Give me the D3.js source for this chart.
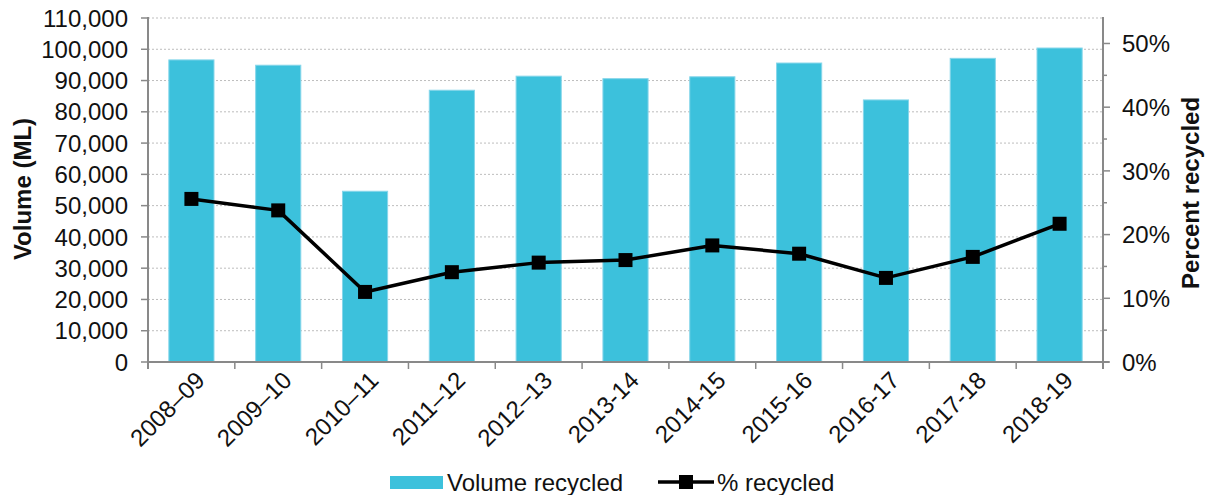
<!DOCTYPE html>
<html>
<head>
<meta charset="utf-8">
<script src="https://cdn.jsdelivr.net/npm/d3@7"></script>
<style>
  html, body { margin: 0; padding: 0; background: #fff; }
  svg { display: block; font-family: "Liberation Sans", Arial, sans-serif; }
</style>
</head>
<body>
<svg id="chart" width="1207" height="495"></svg>
<script>
// Financial years
const years = ["2008\u201309", "2009\u201310", "2010\u201311", "2011\u201312", "2012\u201313",
               "2013-14", "2014-15", "2015-16", "2016-17", "2017-18", "2018-19"];
// Volume of water recycled (ML)
const volumeRecycled = [96600, 94900, 54600, 86900, 91400, 90600, 91200, 95600, 83800, 97100, 100400];
// Share of effluent recycled (%)
const percentRecycled = [25.6, 23.8, 11.0, 14.1, 15.6, 16.0, 18.3, 17.0, 13.2, 16.5, 21.7];
// Axis ticks
const volumeTicks = d3.range(0, 110001, 10000);
const percentTicks = [0, 10, 20, 30, 40, 50];
const percentMinorTicks = [5, 15, 25, 35, 45];

const svg = d3.select("#chart");
const fs = 24;
const axisColor = "#898989";

const plotLeft = 148, plotRight = 1103, plotTop = 18, plotBottom = 362;

const x = d3.scaleBand().domain(years).range([plotLeft, plotRight])
  .paddingInner(0.48).paddingOuter(0.24);
const y = d3.scaleLinear().domain([0, 110000]).range([plotBottom, plotTop]);
const y2 = d3.scaleLinear().domain([0, 54]).range([plotBottom, plotTop]);

// Dotted gridlines
svg.append("g").selectAll("line").data(volumeTicks.filter(d => d > 0)).join("line")
  .attr("x1", plotLeft).attr("x2", plotRight)
  .attr("y1", d => y(d)).attr("y2", d => y(d))
  .attr("stroke", "#bdbdbd").attr("stroke-width", 1)
  .attr("stroke-dasharray", "2,2");

// Bars
svg.append("g").selectAll("rect").data(years).join("rect")
  .attr("x", d => x(d))
  .attr("width", x.bandwidth())
  .attr("y", (d, i) => y(volumeRecycled[i]))
  .attr("height", (d, i) => plotBottom - y(volumeRecycled[i]))
  .attr("fill", "#3cc1dc")
  .attr("stroke", "#86d6ea").attr("stroke-width", 1);

// Left axis
const gL = svg.append("g");
gL.append("line").attr("x1", plotLeft).attr("x2", plotLeft).attr("y1", plotTop - 1).attr("y2", plotBottom + 7)
  .attr("stroke", axisColor).attr("stroke-width", 2);
gL.selectAll("line.t").data(volumeTicks).join("line").attr("class", "t")
  .attr("x1", plotLeft - 7).attr("x2", plotLeft)
  .attr("y1", d => y(d)).attr("y2", d => y(d))
  .attr("stroke", axisColor).attr("stroke-width", 1.5);
gL.selectAll("text").data(volumeTicks).join("text")
  .attr("x", 128).attr("y", d => y(d)).attr("dy", "0.36em")
  .attr("text-anchor", "end").attr("font-size", fs).attr("fill", "#111")
  .text(d => d3.format(",")(d));

// Right axis
const gR = svg.append("g");
gR.append("line").attr("x1", plotRight).attr("x2", plotRight).attr("y1", plotTop - 1).attr("y2", plotBottom + 7)
  .attr("stroke", axisColor).attr("stroke-width", 2);
gR.selectAll("line.maj").data(percentTicks).join("line").attr("class", "maj")
  .attr("x1", plotRight).attr("x2", plotRight + 7)
  .attr("y1", d => y2(d)).attr("y2", d => y2(d))
  .attr("stroke", axisColor).attr("stroke-width", 1.5);
gR.selectAll("line.min").data(percentMinorTicks).join("line").attr("class", "min")
  .attr("x1", plotRight).attr("x2", plotRight + 4)
  .attr("y1", d => y2(d)).attr("y2", d => y2(d))
  .attr("stroke", axisColor).attr("stroke-width", 1.5);
gR.selectAll("text").data(percentTicks).join("text")
  .attr("x", 1122).attr("y", d => y2(d)).attr("dy", "0.36em")
  .attr("text-anchor", "start").attr("font-size", fs).attr("fill", "#111")
  .text(d => d + "%");

// X axis
const step = x.step();
const gap = (step - x.bandwidth()) / 2;
const boundaries = years.map(d => x(d) - gap).concat([plotRight]);
const gX = svg.append("g");
gX.append("line").attr("x1", plotLeft).attr("x2", plotRight + 6).attr("y1", plotBottom).attr("y2", plotBottom)
  .attr("stroke", axisColor).attr("stroke-width", 2);
gX.selectAll("line.t").data(boundaries).join("line").attr("class", "t")
  .attr("x1", d => d).attr("x2", d => d).attr("y1", plotBottom).attr("y2", plotBottom + 7)
  .attr("stroke", axisColor).attr("stroke-width", 1.5);
gX.selectAll("text").data(years).join("text")
  .attr("transform", d => `translate(${x(d) + x.bandwidth() / 2 + 3},${plotBottom + 8}) rotate(-45)`)
  .attr("text-anchor", "end").attr("dy", "0.7em")
  .attr("font-size", fs).attr("fill", "#111")
  .text(d => d);

// Percent line
const line = d3.line()
  .x((d, i) => x(years[i]) + x.bandwidth() / 2)
  .y(d => y2(d));
svg.append("path").datum(percentRecycled)
  .attr("d", line).attr("fill", "none")
  .attr("stroke", "#000").attr("stroke-width", 3.5).attr("stroke-linejoin", "round");
svg.append("g").selectAll("rect").data(percentRecycled).join("rect")
  .attr("x", (d, i) => x(years[i]) + x.bandwidth() / 2 - 7)
  .attr("y", d => y2(d) - 7)
  .attr("width", 14).attr("height", 14).attr("fill", "#000");

// Axis titles
svg.append("text")
  .attr("transform", "translate(31,189) rotate(-90)")
  .attr("text-anchor", "middle").attr("font-size", fs).attr("font-weight", "bold")
  .attr("fill", "#111").text("Volume (ML)");
svg.append("text")
  .attr("transform", "translate(1199,193) rotate(-90)")
  .attr("text-anchor", "middle").attr("font-size", fs).attr("font-weight", "bold")
  .attr("fill", "#111").text("Percent recycled");

// Legend
const lg = svg.append("g");
lg.append("rect").attr("x", 390).attr("y", 476).attr("width", 53).attr("height", 13)
  .attr("fill", "#3cc1dc");
lg.append("text").attr("x", 447).attr("y", 482).attr("dy", "0.36em")
  .attr("font-size", fs).attr("fill", "#111").text("Volume recycled");
lg.append("line").attr("x1", 658).attr("x2", 714).attr("y1", 482).attr("y2", 482)
  .attr("stroke", "#000").attr("stroke-width", 3.5);
lg.append("rect").attr("x", 679).attr("y", 475).attr("width", 14).attr("height", 14).attr("fill", "#000");
lg.append("text").attr("x", 717).attr("y", 482).attr("dy", "0.36em")
  .attr("font-size", fs).attr("fill", "#111").text("% recycled");
</script>
</body>
</html>
